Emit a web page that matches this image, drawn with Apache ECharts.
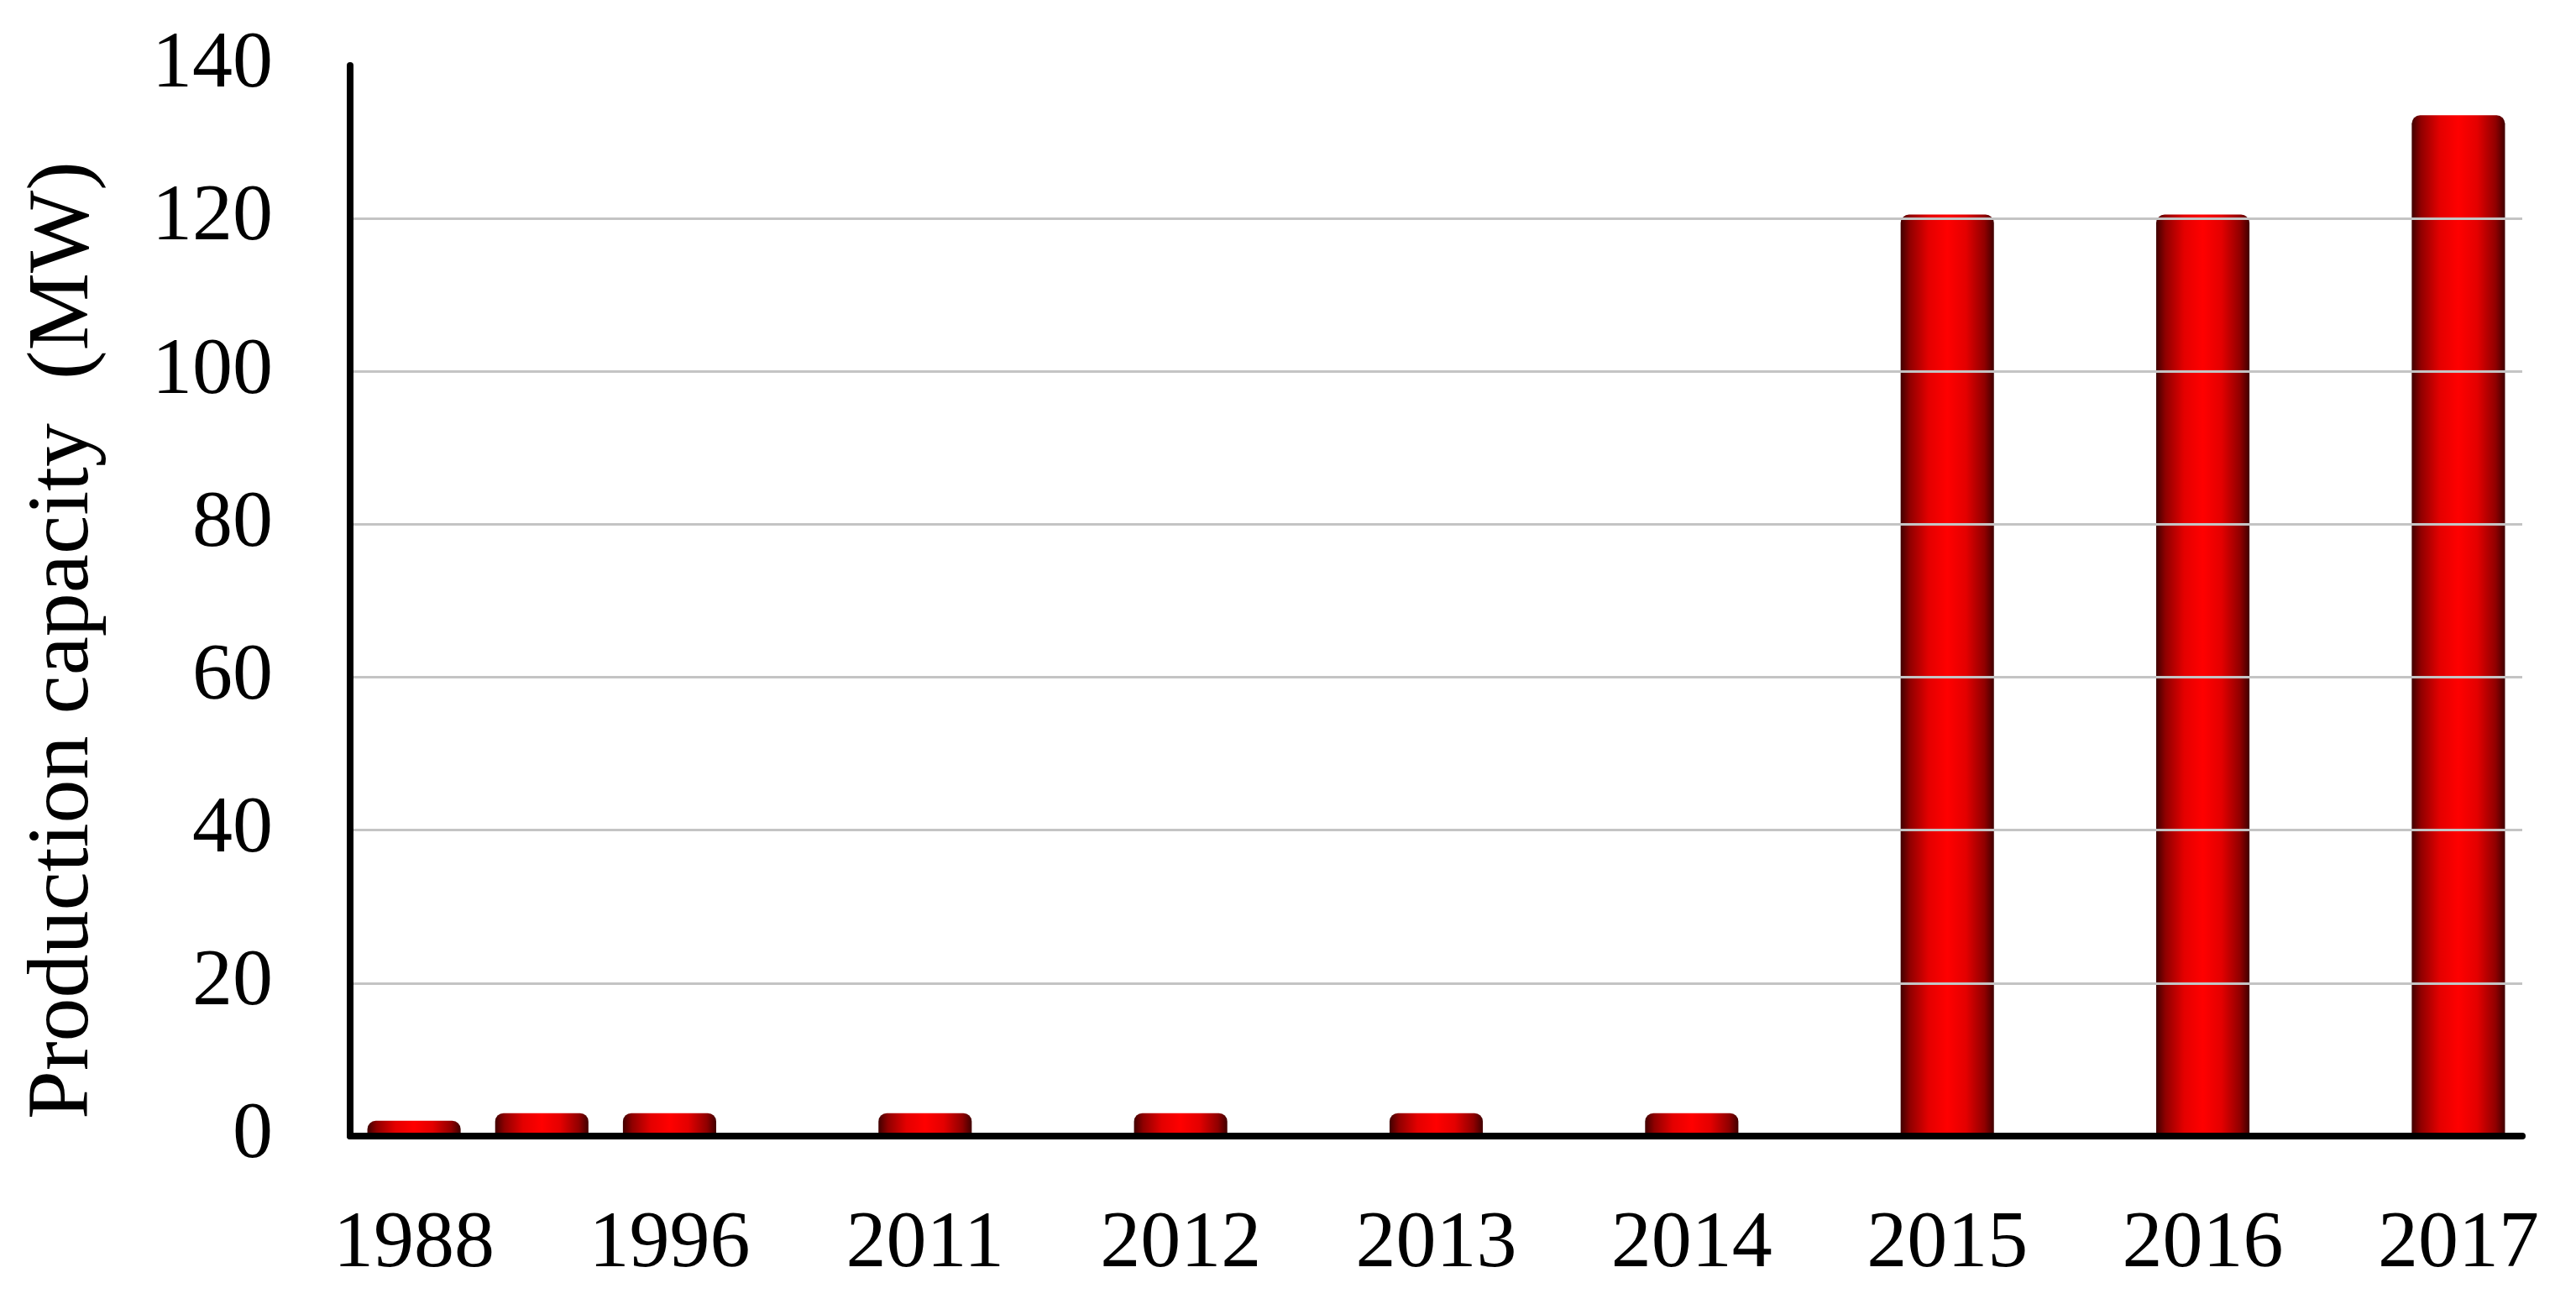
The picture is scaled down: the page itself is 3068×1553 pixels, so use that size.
<!DOCTYPE html>
<html>
<head>
<meta charset="utf-8">
<script src="https://cdn.jsdelivr.net/npm/echarts@6/dist/echarts.min.js"></script>
<style>
html,body{margin:0;padding:0;background:#fff;}
#chart{width:3068px;height:1553px;}
</style>
</head>
<body>
<div id="chart"></div>
<script>
const categories = ['1988', '', '1996', '', '2011', '', '2012', '', '2013', '', '2014', '', '2015', '', '2016', '', '2017'];
const capacity = [2, 3, 3, null, 3, null, 3, null, 3, null, 3, null, 120.5, null, 120.5, null, 133.5];
const yTicks = { min: 0, max: 140, interval: 20 };
const yName = 'Production capacity  (MW)';

const chart = echarts.init(document.getElementById('chart'));
const barGrad = new echarts.graphic.LinearGradient(0, 0, 1, 0, [
  { offset: 0, color: '#400000' },
  { offset: 0.1, color: '#900000' },
  { offset: 0.3, color: '#e40000' },
  { offset: 0.5, color: '#ff0000' },
  { offset: 0.7, color: '#e40000' },
  { offset: 0.9, color: '#900000' },
  { offset: 1, color: '#400000' }
]);
chart.setOption({
  backgroundColor: '#ffffff',
  animation: false,
  grid: { left: 417, right: 64, top: 78, bottom: 200 },
  xAxis: {
    type: 'category',
    data: categories,
    z: 5,
    axisLine: { lineStyle: { color: '#000', width: 8, cap: 'round' } },
    axisTick: { show: false },
    axisLabel: {
      interval: 0,
      color: '#000',
      fontFamily: 'Liberation Serif',
      fontSize: 96,
      margin: 82
    }
  },
  yAxis: {
    type: 'value',
    min: yTicks.min,
    max: yTicks.max,
    interval: yTicks.interval,
    name: yName,
    nameLocation: 'middle',
    nameRotate: 90,
    nameGap: 288,
    nameTextStyle: {
      color: '#000',
      fontFamily: 'Liberation Serif',
      fontSize: 104,
      padding: [0, 94, 0, 0]
    },
    z: 5,
    axisLine: { show: true, lineStyle: { color: '#000', width: 8, cap: 'round' } },
    axisTick: { show: false },
    axisLabel: {
      color: '#000',
      fontFamily: 'Liberation Serif',
      fontSize: 96,
      margin: 92
    },
    splitLine: {
      show: true,
      showMaxLine: false,
      lineStyle: { color: '#c4c4c4', width: 3 }
    }
  },
  series: [{
    type: 'bar',
    data: capacity,
    barWidth: '73%',
    itemStyle: {
      color: barGrad,
      borderRadius: [10, 10, 0, 0]
    }
  }]
});
</script>
</body>
</html>
